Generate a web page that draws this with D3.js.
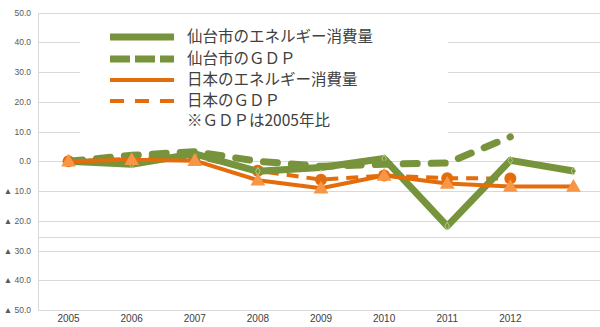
<!DOCTYPE html>
<html>
<head>
<meta charset="utf-8">
<script src="https://cdn.jsdelivr.net/npm/d3@7"></script>
<style>
  html, body { margin: 0; padding: 0; background: #fff; }
  svg { display: block; }
</style>
</head>
<body>
<svg id="chart" width="600" height="327"></svg>
<script>
// Change rates relative to 2005 (%), negative values shown with ▲
const years = ["2005", "2006", "2007", "2008", "2009", "2010", "2011", "2012", ""];
const sendaiEnergy = [0, -1.0, 2.5, -3.4, -2.1, 0.9, -21.8, 0.3, -3.3];
const sendaiGdp    = [0, 2.0, 3.2, 0.0, -1.7, -1.0, -0.6, 8.2, null];
const japanEnergy  = [0, 0.5, 0.2, -6.4, -9.1, -4.8, -7.5, -8.5, -8.5];
const japanGdp     = [0, 0.8, 1.5, -3.2, -6.2, -4.8, -5.7, -5.8, null];
const yTicks = [50, 40, 30, 20, 10, 0, -10, -20, -30, -40, -50];
const legendLabels = ["仙台市のエネルギー消費量", "仙台市のＧＤＰ", "日本のエネルギー消費量", "日本のＧＤＰ"];
const legendNote = "※ＧＤＰは2005年比";

const GREEN = "#77933C";
const ORANGE = "#E46C0A";
const ORANGE_LIGHT = "#F79646";

const svg = d3.select("#chart");
const x = d3.scaleBand().domain(d3.range(years.length)).range([37, 605]);
const y = d3.scaleLinear().domain([-50, 50]).range([310, 12.5]);
const cx = i => x(i) + x.bandwidth() / 2;

// horizontal gridlines
const grid = svg.append("g");
grid.selectAll("line.g").data(yTicks.concat([-25.3])).join("line")
  .attr("x1", 38).attr("x2", 605)
  .attr("y1", d => Math.round(y(d)) + 0.5).attr("y2", d => Math.round(y(d)) + 0.5)
  .attr("stroke", "#d9d9d9").attr("stroke-width", 1);
// vertical axis line
svg.append("line").attr("x1", 38.5).attr("x2", 38.5)
  .attr("y1", Math.round(y(50)) + 0.5).attr("y2", Math.round(y(-50)) + 0.5)
  .attr("stroke", "#d9d9d9");

// y axis labels
const yAxis = d3.axisLeft(y).tickValues(yTicks).tickSize(0).tickPadding(0)
  .tickFormat(v => v < 0 ? "▲ " + (-v).toFixed(1) : v.toFixed(1));
const ya = svg.append("g").attr("transform", "translate(31,0)").call(yAxis);
ya.select(".domain").remove();
ya.selectAll("text").attr("fill", "#595959")
  .style("font-family", "'Liberation Sans', Arial, sans-serif").style("font-size", "8.5px");

// x axis labels
const xAxis = d3.axisBottom(x).tickSize(0).tickPadding(0).tickFormat(i => years[i]);
const xa = svg.append("g").attr("transform", "translate(0,315)").call(xAxis);
xa.select(".domain").remove();
xa.selectAll("text").attr("fill", "#404040")
  .style("font-family", "'Liberation Sans', Arial, sans-serif").style("font-size", "10px");

// legend background
svg.append("rect").attr("x", 80).attr("y", 16).attr("width", 368).attr("height", 122).attr("fill", "#fff");

const line = d3.line().defined(d => d != null).x((d, i) => cx(i)).y(d => y(d));
const pts = arr => arr.map((v, i) => ({ v, i })).filter(d => d.v != null);

// 日本のＧＤＰ
svg.append("path").datum(japanGdp).attr("d", line).attr("fill", "none")
  .attr("stroke", ORANGE).attr("stroke-width", 4).attr("stroke-dasharray", "12,8");
svg.append("g").selectAll("circle").data(pts(japanGdp)).join("circle")
  .attr("cx", d => cx(d.i)).attr("cy", d => y(d.v)).attr("r", 6).attr("fill", ORANGE);

// 仙台市のエネルギー消費量
svg.append("path").datum(sendaiEnergy).attr("d", line).attr("fill", "none")
  .attr("stroke", GREEN).attr("stroke-width", 7).attr("stroke-linejoin", "round");
svg.append("g").selectAll("path").data(pts(sendaiEnergy)).join("path")
  .attr("transform", d => `translate(${cx(d.i)},${y(d.v)})`)
  .attr("d", d3.symbol(d3.symbolDiamond, 18)).attr("fill", GREEN).attr("stroke", "#b3cc88").attr("stroke-width", 1);

// 仙台市のＧＤＰ
svg.append("path").datum(sendaiGdp).attr("d", line).attr("fill", "none")
  .attr("stroke", GREEN).attr("stroke-width", 7).attr("stroke-linecap", "round")
  .attr("stroke-linejoin", "round").attr("stroke-dasharray", "14,14");

// 日本のエネルギー消費量
svg.append("path").datum(japanEnergy).attr("d", line).attr("fill", "none")
  .attr("stroke", ORANGE).attr("stroke-width", 4).attr("stroke-linejoin", "round");
svg.append("g").selectAll("path").data(pts(japanEnergy)).join("path")
  .attr("transform", d => `translate(${cx(d.i)},${y(d.v) + 1})`)
  .attr("d", d3.symbol(d3.symbolTriangle, 95)).attr("fill", ORANGE_LIGHT);

// legend
const legendStyles = [
  { color: GREEN, width: 7, dash: null },
  { color: GREEN, width: 7, dash: "20,5" },
  { color: ORANGE, width: 4, dash: null },
  { color: ORANGE, width: 4, dash: "14,11" }
];
const rowY = [37, 59, 80, 101, 121];
const lg = svg.append("g");
legendStyles.forEach((s, k) => {
  lg.append("line").attr("x1", 110).attr("x2", 174).attr("y1", rowY[k]).attr("y2", rowY[k])
    .attr("stroke", s.color).attr("stroke-width", s.width).attr("stroke-dasharray", s.dash);
});
lg.selectAll("text").data(legendLabels.concat([legendNote])).join("text")
  .attr("x", 187).attr("y", (d, k) => rowY[k]).attr("dy", "0.35em")
  .attr("fill", "#404040")
  .style("font-family", "'Noto Sans CJK JP', sans-serif").style("font-size", "15.5px")
  .text(d => d);
</script>
</body>
</html>
